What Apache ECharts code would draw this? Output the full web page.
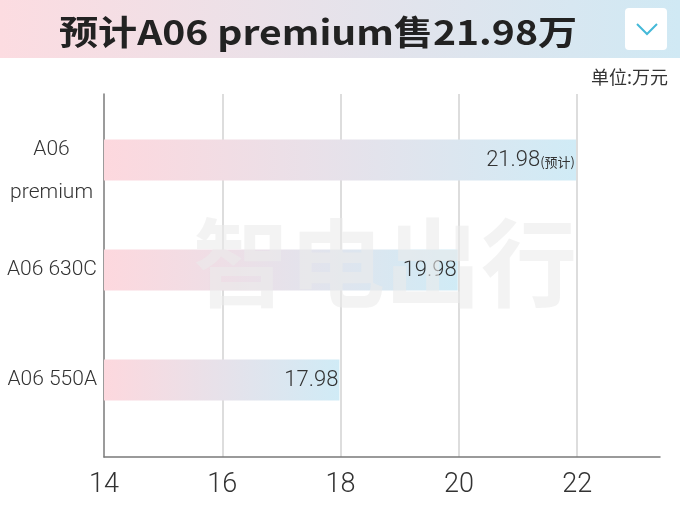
<!DOCTYPE html>
<html><head><meta charset="utf-8">
<script src="https://cdn.jsdelivr.net/npm/echarts@6/dist/echarts.min.js"></script>
<style>html,body{margin:0;padding:0;background:#fff}#c{width:680px;height:510px}</style>
</head><body><div id="c"></div>
<script>
const categories = ['A06\npremium', 'A06 630C', 'A06 550A'];
const prices = [21.98, 19.98, 17.98];
const notes = ['(预计)', '', ''];
const xTicks = [14, 16, 18, 20, 22];
const xMin = 14, xMax = 23.4, xStep = 2;
const titleText = '预计A06 premium售21.98万';
const unitText = '单位:万元';
const watermark = '智电出行';

const NUM = '"Roboto", "Noto Sans", sans-serif';
const CJK = '"Noto Sans CJK SC", "Noto Sans", sans-serif';

const chart = echarts.init(document.getElementById('c'), null, {renderer: 'canvas'});
const barGrad = new echarts.graphic.LinearGradient(0, 0, 1, 0, [
  {offset: 0, color: '#fdd8de'},
  {offset: 1, color: '#d0ebf6'}
]);

chart.setOption({
  backgroundColor: '#fff',
  animation: false,
  title: {
    text: unitText, right: 7, top: 63,
    textStyle: {fontFamily: CJK, fontSize: 18, fontWeight: 'normal', color: '#333'}
  },
  graphic: [
    {type: 'rect', z: -10, shape: {x: 0, y: 0, width: 680, height: 58},
      style: {fill: new echarts.graphic.LinearGradient(0, 0, 1, 0, [
        {offset: 0, color: '#fcdce1'}, {offset: 1, color: '#d0e9f4'}])}},
    {type: 'text', z: 10, x: 318, y: 32, scaleX: 1.15,
      style: {text: titleText, x: 0, y: 0, textAlign: 'center', textVerticalAlign: 'middle',
      font: 'bold 34px ' + CJK, fill: '#222'}},
    {type: 'rect', z: 10, shape: {x: 625, y: 8, width: 42, height: 42, r: 4}, style: {fill: '#fff'}},
    {type: 'polyline', z: 11, shape: {points: [[637, 24], [647, 34], [657, 24]]},
      style: {stroke: '#45b9d8', lineWidth: 2, fill: null}},
    {type: 'text', z: 100, silent: true, style: {text: watermark, x: 385, y: 263, textAlign: 'center', textVerticalAlign: 'middle',
      font: 'bold 96px ' + CJK, fill: 'rgba(235,235,235,0.6)'}}
  ],
  grid: [
    {left: 104, right: 20, top: 105, height: 330, outerBoundsMode: 'none', containLabel: false},
    {left: 104, right: 20, top: 94, height: 363, outerBoundsMode: 'none', containLabel: false}
  ],
  xAxis: [
    {gridIndex: 0, type: 'value', min: xMin, max: xMax, interval: xStep, show: false},
    {gridIndex: 1, type: 'value', min: xMin, max: xMax, interval: xStep,
      axisLine: {show: true, lineStyle: {color: '#7a7a7a', width: 1.5}},
      axisTick: {show: false},
      splitLine: {show: true, showMinLine: false, showMaxLine: false, lineStyle: {color: '#d2d2d2', width: 1.5}},
      axisLabel: {customValues: xTicks, margin: 15, color: '#333', fontSize: 27, fontWeight: 300, fontFamily: NUM}}
  ],
  yAxis: [
    {gridIndex: 0, type: 'category', inverse: true, data: categories,
      axisLine: {show: false}, axisTick: {show: false},
      axisLabel: {margin: 7, color: '#333', fontSize: 21, fontFamily: NUM, align: 'right',
        formatter: function (v) {
          if (v.indexOf('\n') >= 0) {
            return '{t| }\n' + v.split('\n').map(s => '{c|' + s + '}').join('\n');
          }
          return '{a|' + v + '}';
        },
        rich: {
          t: {lineHeight: 23, fontSize: 10},
          a: {lineHeight: 43, fontSize: 21, fontWeight: 300, fontFamily: NUM, color: '#333', align: 'right'},
          c: {lineHeight: 43, fontSize: 21, fontWeight: 300, fontFamily: NUM, color: '#333', align: 'center', padding: [0, 4, 0, 0]}
        }}},
    {gridIndex: 1, type: 'value', min: 0, max: 1,
      axisLine: {show: true, lineStyle: {color: '#7a7a7a', width: 1.5}},
      axisTick: {show: false}, axisLabel: {show: false}, splitLine: {show: false}}
  ],
  series: [{
    type: 'bar', xAxisIndex: 0, yAxisIndex: 0,
    barWidth: 41,
    data: prices,
    itemStyle: {color: barGrad},
    label: {
      show: true, position: 'insideRight', distance: 1,
      formatter: function (p) {
        const n = notes[p.dataIndex];
        return '{v|' + p.value.toFixed(2) + '}' + (n ? '{n|' + n + '}' : '');
      },
      rich: {
        v: {fontSize: 22, fontWeight: 300, fontFamily: NUM, color: '#333'},
        n: {fontSize: 13, fontFamily: CJK, color: '#333', padding: [4, 0, 0, 0]}
      }
    }
  }]
});
</script></body></html>
